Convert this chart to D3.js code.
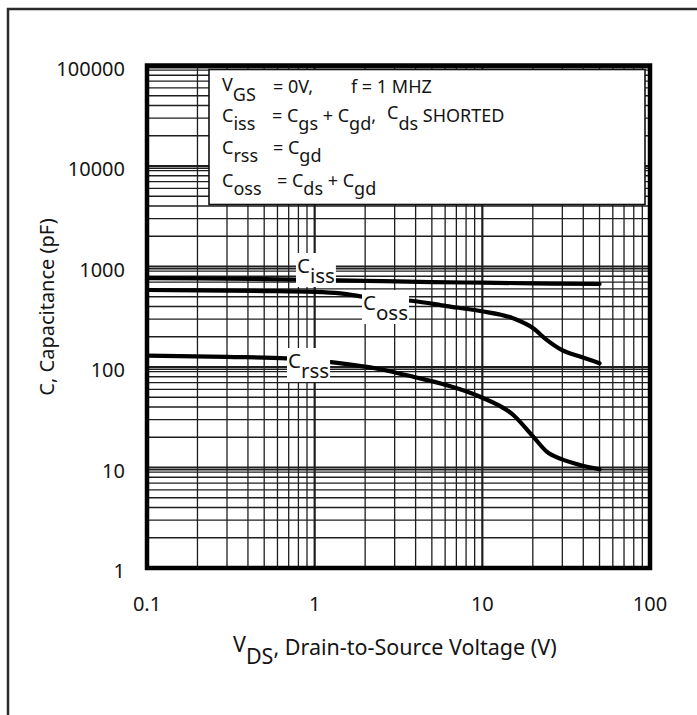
<!DOCTYPE html>
<html>
<head>
<meta charset="utf-8">
<script src="https://cdn.jsdelivr.net/npm/d3@7"></script>
<style>
  body { margin: 0; background: #fff; }
  svg text { font-family: "Noto Sans", sans-serif; fill: #141414; white-space: pre; }
</style>
</head>
<body>
<svg id="chart" width="697" height="715"></svg>
<script>
// values (V_DS in volts, capacitance in pF)
var vdsIss = [0.1, 0.2, 0.5, 1, 2, 5, 10, 20, 50];
var ciss = [765, 760, 750, 735, 720, 700, 690, 680, 670];

var vdsOss = [0.1, 0.2, 0.5, 1, 1.42, 1.87, 3, 3.87, 6.12, 9.69, 15.3, 20.1, 24.2, 29.7, 38.2, 50];
var coss = [584, 578, 570, 560, 541, 505, 470, 454, 404, 361, 305, 243, 186, 148, 127, 109];

var vdsRss = [0.1, 0.3, 0.68, 1.29, 2.45, 3.87, 6.12, 9.69, 15.3, 20.1, 24.2, 29.7, 38.2, 50];
var crss = [130, 126, 122, 111, 95, 80, 66, 50.6, 33.3, 20.3, 14.4, 12.1, 10.6, 9.6];

var xTicks = [0.1, 1, 10, 100];
var xTickLabels = ['0.1', '1', '10', '100'];
var yTicks = [1, 10, 100, 1000, 10000, 100000];
var yTickLabels = ['1', '10', '100', '1000', '10000', '100000'];
var xMinor = [2, 3, 4, 5, 6, 7, 8, 9];
var yMinor = [2, 3, 4, 5, 6, 7, 8, 9, 9.5];

// curve labels: name, subscript, anchor of the big C
var curveLabels = [
  { t: 'C', s: 'iss', x: 297, y: 273 },
  { t: 'C', s: 'oss', x: 363, y: 310 },
  { t: 'C', s: 'rss', x: 288, y: 368 }
];

// legend text runs (s = subscript, x = jump to column)
var legendLines = [
  [{ t: 'V', up: 2 }, { t: 'GS', s: 1 }, { t: '= 0V,', x: 273 }, { t: 'f = 1 MHZ', x: 351 }],
  [{ t: 'C' }, { t: 'iss', s: 1 }, { t: '= C', x: 272 }, { t: 'gs', s: 1 }, { t: ' + C' }, { t: 'gd', s: 1 },
   { t: ',' }, { t: 'C', x: 387, up: 3 }, { t: 'ds', s: 1 }, { t: ' SHORTED' }],
  [{ t: 'C' }, { t: 'rss', s: 1 }, { t: '= C', x: 273 }, { t: 'gd', s: 1 }],
  [{ t: 'C' }, { t: 'oss', s: 1 }, { t: '= C', x: 277 }, { t: 'ds', s: 1 }, { t: ' + C' }, { t: 'gd', s: 1 }]
];
var legendBase = [93, 122, 154, 187];

(function () {
  var svg = d3.select('#chart');
  var plotLeft = 147, plotRight = 650, plotTop = 65.5, plotBottom = 568;

  var x = d3.scaleLog().domain([0.1, 100]).range([plotLeft, plotRight]);
  var y = d3.scaleLog().domain([1, 100000]).range([plotBottom, plotTop]);

  // outer frame, runs off the page on the right and bottom
  svg.append('rect')
    .attr('x', 8).attr('y', 9)
    .attr('width', 740).attr('height', 760)
    .attr('fill', 'none')
    .attr('stroke', '#2a2a2a')
    .attr('stroke-width', 2.5);

  // grid
  var grid = svg.append('g');
  var xMinorVals = [], yMinorVals = [];
  xTicks.slice(0, -1).forEach(function (d) {
    xMinor.forEach(function (k) { xMinorVals.push(d * k); });
  });
  yTicks.slice(0, -1).forEach(function (d) {
    yMinor.forEach(function (k) { yMinorVals.push(d * k); });
  });

  grid.selectAll('.vx')
    .data(xMinorVals.concat(xTicks))
    .enter().append('line')
    .attr('x1', function (d) { return x(d); })
    .attr('x2', function (d) { return x(d); })
    .attr('y1', plotTop).attr('y2', plotBottom)
    .attr('stroke', '#1e1e1e')
    .attr('stroke-width', function (d) { return xTicks.indexOf(d) >= 0 ? 2.2 : 1.3; });

  grid.selectAll('.hy')
    .data(yMinorVals.concat(yTicks))
    .enter().append('line')
    .attr('y1', function (d) { return y(d); })
    .attr('y2', function (d) { return y(d); })
    .attr('x1', plotLeft).attr('x2', plotRight)
    .attr('stroke', '#1e1e1e')
    .attr('stroke-width', function (d) { return yTicks.indexOf(d) >= 0 ? 2 : 1.3; });

  // legend box
  svg.append('rect')
    .attr('x', 209).attr('y', 69.5)
    .attr('width', 436).attr('height', 135)
    .attr('fill', '#fff')
    .attr('stroke', '#111')
    .attr('stroke-width', 1.6);

  function addRuns(sel, runs, base, startX, sub) {
    var text = sel.append('text').attr('x', startX).attr('y', base);
    runs.forEach(function (r) {
      var ts = text.append('tspan')
        .attr('y', base + (r.s ? sub : 0) - (r.up || 0))
        .text(r.t);
      if (r.x) ts.attr('x', r.x);
    });
    return text;
  }

  var legend = svg.append('g').style('font-size', '18px');
  legendLines.forEach(function (runs, i) {
    addRuns(legend, runs, legendBase[i], 222, 8);
  });

  // curves
  var line = d3.line()
    .x(function (d) { return x(d[0]); })
    .y(function (d) { return y(d[1]); })
    .curve(d3.curveMonotoneX);

  var series = [d3.zip(vdsIss, ciss), d3.zip(vdsOss, coss), d3.zip(vdsRss, crss)];
  svg.append('g').selectAll('path')
    .data(series)
    .enter().append('path')
    .attr('d', line)
    .attr('fill', 'none')
    .attr('stroke', '#000')
    .attr('stroke-width', 4.2)
    .attr('stroke-linecap', 'round');

  // curve labels on white patches
  var labels = svg.append('g').style('font-size', '20.5px');
  curveLabels.forEach(function (c) {
    var g = labels.append('g');
    var bg = g.append('rect').attr('fill', '#fff');
    var t = addRuns(g, [{ t: c.t }, { t: c.s, s: 1 }], c.y, c.x, 10);
    var b = t.node().getBBox();
    bg.attr('x', b.x - 1).attr('y', b.y + 2)
      .attr('width', b.width + 2).attr('height', b.height - 4);
  });

  // plot border
  svg.append('rect')
    .attr('x', plotLeft).attr('y', plotTop)
    .attr('width', plotRight - plotLeft).attr('height', plotBottom - plotTop)
    .attr('fill', 'none')
    .attr('stroke', '#000')
    .attr('stroke-width', 4.5);

  // tick labels
  svg.append('g').selectAll('text')
    .data(yTicks)
    .enter().append('text')
    .attr('x', 125)
    .attr('y', function (d) { return y(d) + 10; })
    .attr('text-anchor', 'end')
    .style('font-size', '20px')
    .text(function (d, i) { return yTickLabels[i]; });

  svg.append('g').selectAll('text')
    .data(xTicks)
    .enter().append('text')
    .attr('x', function (d) { return x(d); })
    .attr('y', 611)
    .attr('text-anchor', 'middle')
    .style('font-size', '20px')
    .text(function (d, i) { return xTickLabels[i]; });

  // axis titles
  var xt = svg.append('text').style('font-size', '21.5px').attr('x', 233).attr('y', 655);
  xt.append('tspan').attr('y', 652).text('V');
  xt.append('tspan').attr('y', 664).text('DS');
  xt.append('tspan').attr('y', 655).text(', Drain-to-Source Voltage (V)');

  svg.append('text')
    .attr('transform', 'translate(54,307) rotate(-90)')
    .attr('text-anchor', 'middle')
    .style('font-size', '20px')
    .text('C, Capacitance (pF)');
})();
</script>
</body>
</html>
